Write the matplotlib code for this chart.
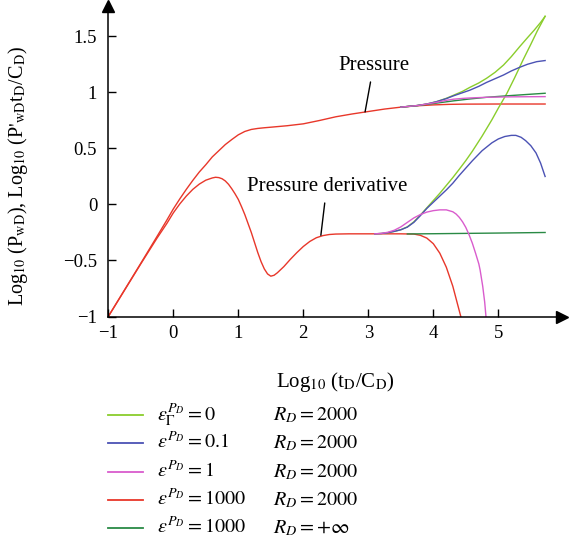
import matplotlib
matplotlib.use("Agg")
import matplotlib.pyplot as plt
from matplotlib.lines import Line2D

plt.rcParams["font.family"] = ["Liberation Serif", "DejaVu Serif"]
plt.rcParams["mathtext.fontset"] = "stix"

# Colours of the five cases
c_lgreen = "#8acd2c"
c_blue = "#4b52b4"
c_mag = "#d95ccd"
c_red = "#e8372a"
c_dgreen = "#2a8a45"

# Base case (eps=1000, RD=2000), full time range
x_pres = [-1, -0.5, -0.25, -0.1, 0, 0.1, 0.2, 0.3, 0.4, 0.5, 0.6, 0.7, 0.8, 0.9, 1.0, 1.1,
          1.2, 1.3, 1.4, 1.5, 1.75, 2.0, 2.25, 2.5, 2.75, 3.0, 3.25, 3.5, 3.75, 4.0, 4.25,
          4.5, 5.0, 5.72]
y_pres = [-1, -0.525, -0.285, -0.14, -0.04, 0.05, 0.135, 0.215, 0.29, 0.355, 0.425, 0.48,
          0.535, 0.58, 0.622, 0.652, 0.67, 0.679, 0.685, 0.69, 0.703, 0.72, 0.75, 0.783,
          0.808, 0.83, 0.852, 0.869, 0.881, 0.889, 0.894, 0.896, 0.897, 0.897]

x_der = [-1, -0.5, -0.25, -0.1, 0, 0.1, 0.2, 0.3, 0.4, 0.5, 0.6, 0.65, 0.7, 0.75, 0.8, 0.85,
         0.9, 0.95, 1.0, 1.05, 1.1, 1.15, 1.2, 1.25, 1.3, 1.35, 1.4, 1.45, 1.5, 1.55, 1.6,
         1.7, 1.8, 1.9, 2.0, 2.1, 2.2, 2.3, 2.4, 2.5, 2.7, 3.0, 3.5, 3.7, 3.8, 3.9, 4.0,
         4.1, 4.2, 4.3, 4.4, 4.45]
y_der = [-1, -0.53, -0.3, -0.17, -0.075, 0.005, 0.075, 0.135, 0.182, 0.217, 0.237, 0.243,
         0.24, 0.23, 0.21, 0.18, 0.14, 0.095, 0.045, -0.02, -0.09, -0.17, -0.25, -0.34,
         -0.43, -0.51, -0.575, -0.62, -0.64, -0.632, -0.61, -0.555, -0.49, -0.43, -0.375,
         -0.33, -0.297, -0.278, -0.268, -0.264, -0.262, -0.262, -0.262, -0.264, -0.275,
         -0.3, -0.35, -0.435, -0.56, -0.73, -0.95, -1.06]

# eps_Gamma=0, RD=2000
x_pres_g = [3.5, 3.75, 3.9, 4.05, 4.2, 4.31, 4.45, 4.56, 4.7, 4.82, 4.95, 5.08, 5.2, 5.33,
            5.45, 5.55, 5.65, 5.72]
y_pres_g = [0.869, 0.883, 0.897, 0.918, 0.948, 0.975, 1.01, 1.045, 1.085, 1.127, 1.18,
            1.245, 1.32, 1.41, 1.49, 1.555, 1.625, 1.68]
x_der_g = [3.1, 3.2, 3.3, 3.4, 3.5, 3.6, 3.7, 3.8, 3.9, 4.0, 4.1, 4.2, 4.3, 4.4, 4.5, 4.6,
           4.75, 4.9, 5.0, 5.13, 5.25, 5.38, 5.5, 5.6, 5.72]
y_der_g = [-0.262, -0.259, -0.252, -0.24, -0.225, -0.2, -0.155, -0.095, -0.03, 0.035, 0.1,
           0.17, 0.24, 0.315, 0.392, 0.475, 0.61, 0.755, 0.86, 0.99, 1.13, 1.29, 1.43,
           1.55, 1.68]

# eps=0.1, RD=2000
x_pres_b = [3.5, 3.75, 3.9, 4.05, 4.2, 4.31, 4.45, 4.56, 4.7, 4.82, 4.95, 5.08, 5.2, 5.33,
            5.45, 5.59, 5.72]
y_pres_b = [0.869, 0.883, 0.897, 0.918, 0.945, 0.97, 0.998, 1.02, 1.055, 1.09, 1.123, 1.156,
            1.192, 1.225, 1.252, 1.275, 1.285]
x_der_b = [3.1, 3.2, 3.3, 3.4, 3.5, 3.6, 3.7, 3.8, 3.9, 4.0, 4.1, 4.2, 4.3, 4.4, 4.5, 4.6,
           4.75, 4.9, 5.0, 5.1, 5.2, 5.27, 5.35, 5.42, 5.5, 5.58, 5.65, 5.72]
y_der_b = [-0.262, -0.259, -0.252, -0.24, -0.226, -0.202, -0.16, -0.1, -0.035, 0.02, 0.075,
           0.13, 0.19, 0.26, 0.325, 0.39, 0.48, 0.55, 0.585, 0.607, 0.617, 0.617, 0.6,
           0.57, 0.525, 0.46, 0.37, 0.25]

# eps=1, RD=2000
x_pres_m = [3.5, 3.75, 3.9, 4.05, 4.2, 4.31, 4.45, 4.56, 4.82, 5.2, 5.72]
y_pres_m = [0.869, 0.883, 0.897, 0.912, 0.93, 0.94, 0.947, 0.951, 0.957, 0.961, 0.963]
x_der_m = [3.1, 3.2, 3.3, 3.4, 3.5, 3.6, 3.7, 3.8, 3.9, 4.0, 4.1, 4.2, 4.3, 4.35, 4.4,
           4.45, 4.5, 4.55, 4.6, 4.65, 4.7, 4.72, 4.76, 4.79, 4.81, 4.83]
y_der_m = [-0.262, -0.258, -0.248, -0.23, -0.2, -0.16, -0.12, -0.09, -0.068, -0.055,
           -0.048, -0.048, -0.065, -0.085, -0.115, -0.155, -0.205, -0.27, -0.345, -0.435,
           -0.53, -0.585, -0.73, -0.87, -1.0, -1.1]

# eps=1000, RD=+inf
x_pres_d = [3.5, 3.75, 3.9, 4.05, 4.31, 4.56, 4.82, 5.08, 5.33, 5.72]
y_pres_d = [0.869, 0.883, 0.894, 0.905, 0.925, 0.942, 0.957, 0.968, 0.978, 0.993]
x_der_d = [3.6, 4.0, 4.5, 5.0, 5.72]
y_der_d = [-0.263, -0.261, -0.258, -0.255, -0.25]

eps_labels = [r"$\varepsilon_{\Gamma}^{P_D} = 0$", r"$\varepsilon^{P_D} = 0.1$",
              r"$\varepsilon^{P_D} = 1$", r"$\varepsilon^{P_D} = 1000$",
              r"$\varepsilon^{P_D} = 1000$"]
rd_labels = [r"$R_D = 2000$", r"$R_D = 2000$", r"$R_D = 2000$", r"$R_D = 2000$",
             r"$R_D = +\infty$"]
legend_colors = [c_lgreen, c_blue, c_mag, c_red, c_dgreen]

W, H = 569, 547
fig = plt.figure(figsize=(W / 100, H / 100), dpi=100)
ax = fig.add_axes([108.3 / W, 1 - 316.5 / H, (561.5 - 108.3) / W, (316.5 - 6) / H])

lw = 1.0
ax.plot(x_der_g, y_der_g, color=c_lgreen, lw=lw)
ax.plot(x_pres_g, y_pres_g, color=c_lgreen, lw=lw)
ax.plot(x_der_b, y_der_b, color=c_blue, lw=lw)
ax.plot(x_pres_b, y_pres_b, color=c_blue, lw=lw)
ax.plot(x_der_d, y_der_d, color=c_dgreen, lw=lw)
ax.plot(x_pres_d, y_pres_d, color=c_dgreen, lw=lw)
ax.plot(x_der_m, y_der_m, color=c_mag, lw=lw)
ax.plot(x_pres_m, y_pres_m, color=c_mag, lw=lw)
ax.plot(x_pres, y_pres, color=c_red, lw=lw, zorder=1.5)
ax.plot(x_der, y_der, color=c_red, lw=lw, zorder=1.5)

ax.set_xlim(-1, 5.972)
ax.set_ylim(-1, 1.772)
ax.spines["top"].set_visible(False)
ax.spines["right"].set_visible(False)
for s in ("left", "bottom"):
    ax.spines[s].set_linewidth(1.1)
ax.plot(1, 0, ">k", ms=9, transform=ax.transAxes, clip_on=False)
ax.plot(0, 1, "^k", ms=9, transform=ax.transAxes, clip_on=False)

ax.set_xticks([-1, 0, 1, 2, 3, 4, 5])
ax.set_yticks([-1, -0.5, 0, 0.5, 1, 1.5])
ax.set_yticklabels(["\u22121", "\u22120.5", "0", "0.5", "1", "1.5"])
ax.tick_params(direction="in", length=6, width=1.0, labelsize=13.5)
ax.tick_params(axis="y", pad=8)
ax.tick_params(axis="x", pad=6)

ax.set_xlabel(r"Log$_{10}$ (t$_\mathrm{D}$/C$_\mathrm{D}$)", fontsize=15, labelpad=20)
ax.set_ylabel(r"Log$_{10}$ (P$_\mathrm{wD}$), Log$_{10}$ (P$'_\mathrm{wD}$t$_\mathrm{D}$/C$_\mathrm{D}$)",
              fontsize=14.5)
ax.yaxis.set_label_coords(-0.173, 0.453)

ax.annotate("Pressure", xy=(2.95, 0.826), xytext=(3.08, 1.24), ha="center", va="center",
            fontsize=15, arrowprops=dict(arrowstyle="-", color="black", lw=1.0,
                                         shrinkA=3, shrinkB=0))
ax.annotate("Pressure derivative", xy=(2.27, -0.275), xytext=(2.36, 0.16), ha="center",
            va="center", fontsize=15, arrowprops=dict(arrowstyle="-", color="black", lw=1.0,
                                                      shrinkA=3, shrinkB=0))

# legend below the plot
rows = [415, 443, 472, 500, 528]
for yy, col, e, r in zip(rows, legend_colors, eps_labels, rd_labels):
    fig.add_artist(Line2D([108 / W, 143 / W], [1 - yy / H, 1 - yy / H], color=col, lw=1.3))
    fig.text(157 / W, 1 - yy / H, e, fontsize=14.5, va="center", ha="left")
    fig.text(273 / W, 1 - yy / H, r, fontsize=14.5, va="center", ha="left")

fig.savefig("out.png", dpi=100)
